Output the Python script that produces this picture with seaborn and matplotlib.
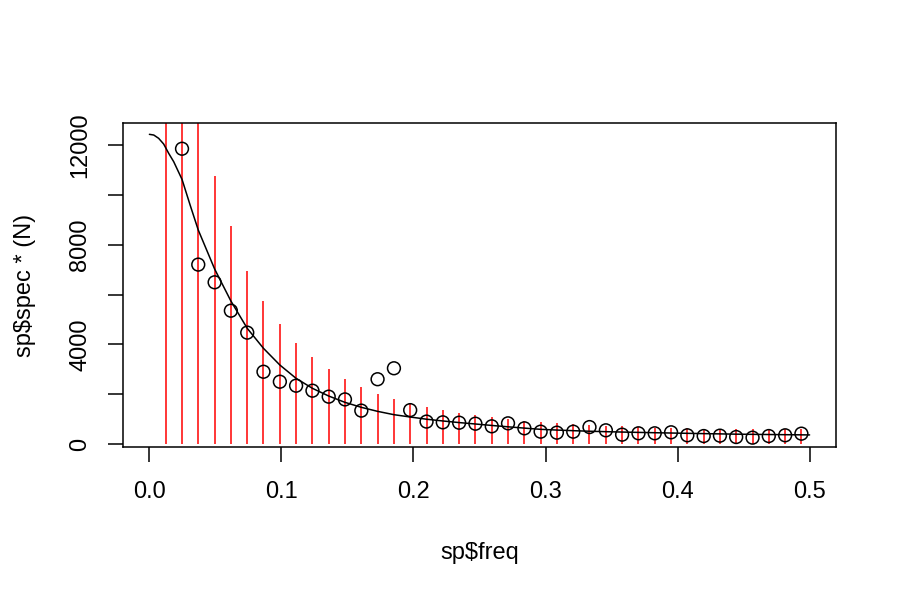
import numpy as np
import pandas as pd
import seaborn as sns
import matplotlib.pyplot as plt
from matplotlib.ticker import FixedLocator, FuncFormatter

# Fourier frequencies (k/81)
freq = [0.0123, 0.0247, 0.0370, 0.0494, 0.0617, 0.0741, 0.0864, 0.0988, 0.1111, 0.1235,
        0.1358, 0.1481, 0.1605, 0.1728, 0.1852, 0.1975, 0.2099, 0.2222, 0.2346, 0.2469,
        0.2593, 0.2716, 0.2840, 0.2963, 0.3086, 0.3210, 0.3333, 0.3457, 0.3580, 0.3704,
        0.3827, 0.3951, 0.4074, 0.4198, 0.4321, 0.4444, 0.4568, 0.4691, 0.4815, 0.4938]

# red vertical bars (upper limits), one per frequency
upper = [19000, 16500, 13900, 10740, 8760, 6940, 5750, 4800, 4050, 3490,
         3010, 2620, 2290, 2020, 1820, 1640, 1485, 1377, 1244, 1164,
         1070, 1016, 910, 870, 830, 790, 762, 735, 709, 682,
         654, 642, 630, 615, 602, 590, 590, 590, 590, 602]

# open circles, from the second frequency on
circ_freq = freq[1:]
circ_spec = [11850, 7200, 6490, 5350, 4470, 2900, 2500, 2340, 2140, 1900,
             1790, 1340, 2600, 3040, 1360, 900, 870, 855, 815, 710,
             830, 630, 495, 455, 495, 680, 550, 375, 430, 430,
             470, 350, 320, 335, 280, 255, 320, 350, 415]

# smooth black curve
curve_freq = [0.0, 0.0033, 0.0070, 0.0108, 0.0146, 0.0184, 0.0247, 0.0309, 0.0370,
              0.0494, 0.0617, 0.0741, 0.0864, 0.0988, 0.1111, 0.1235,
              0.1358, 0.1481, 0.1605, 0.1728, 0.1852, 0.1975, 0.2099, 0.2222, 0.2346, 0.2469,
              0.2593, 0.2716, 0.2840, 0.2963, 0.3086, 0.3210, 0.3333, 0.3457, 0.3580, 0.3704,
              0.3827, 0.3951, 0.4074, 0.4198, 0.4321, 0.4444, 0.4568, 0.4691, 0.4815, 0.4938,
              0.5]
curve_spec = [12428, 12400, 12268, 12039, 11666, 11330, 10620, 9580, 8588,
              7023, 5739, 4642, 3839, 3170, 2635, 2234,
              1926, 1672, 1472, 1311, 1177, 1084, 995, 925, 860, 803,
              745, 690, 638, 589, 560, 535, 513, 495, 480, 466,
              453, 441, 429, 417, 406, 395, 388, 381, 374, 368,
              365]

sns.set_theme(style="white")
plt.rcParams['font.family'] = ['Liberation Sans', 'DejaVu Sans']

fig = plt.figure(figsize=(9, 6), dpi=100)
ax = fig.add_axes([123 / 900, 1 - 447 / 600, 713 / 900, 324 / 600])

curve = pd.DataFrame({"f": curve_freq, "s": curve_spec})
pts = pd.DataFrame({"f": circ_freq, "s": circ_spec})

ax.vlines(freq, 0, upper, colors="#ff0000", linewidth=1.1, zorder=2)
sns.lineplot(data=curve, x="f", y="s", estimator=None, sort=False,
             color="black", linewidth=1.1, ax=ax, zorder=3)
sns.scatterplot(data=pts, x="f", y="s", marker="o", s=85,
                facecolors="none", edgecolor="black", linewidth=1.1,
                ax=ax, zorder=4)

ax.set_xlim(-0.02, 0.52)
ax.set_ylim(-120, 12883)

ax.xaxis.set_major_locator(FixedLocator([0.0, 0.1, 0.2, 0.3, 0.4, 0.5]))
ax.xaxis.set_major_formatter(FuncFormatter(lambda v, p: f"{v:.1f}"))
ax.yaxis.set_major_locator(FixedLocator([0, 2000, 4000, 6000, 8000, 10000, 12000]))
ax.yaxis.set_major_formatter(FuncFormatter(lambda v, p: f"{int(v)}" if int(v) % 4000 == 0 else ""))

for sp in ax.spines.values():
    sp.set_visible(True)
    sp.set_color("black")
    sp.set_linewidth(1.1)

ax.tick_params(axis="both", direction="out", length=11, width=1.1,
               labelsize=17, colors="black", bottom=True, left=True)
ax.tick_params(axis="x", pad=13.5)
ax.tick_params(axis="y", pad=12)
for lab in ax.get_yticklabels():
    lab.set_rotation(90)
    lab.set_va("center")

ax.set_xlabel("sp$freq", fontsize=17, color="black")
ax.set_ylabel("sp$spec * (N)", fontsize=17, color="black")
ax.xaxis.set_label_coords(0.5, -(553 - 447) / 324)
ax.xaxis.label.set_va("center")
ax.yaxis.set_label_coords((25 - 123) / 713, 0.5)
ax.yaxis.label.set_va("center")

fig.savefig("out.png", dpi=100, facecolor="white")
